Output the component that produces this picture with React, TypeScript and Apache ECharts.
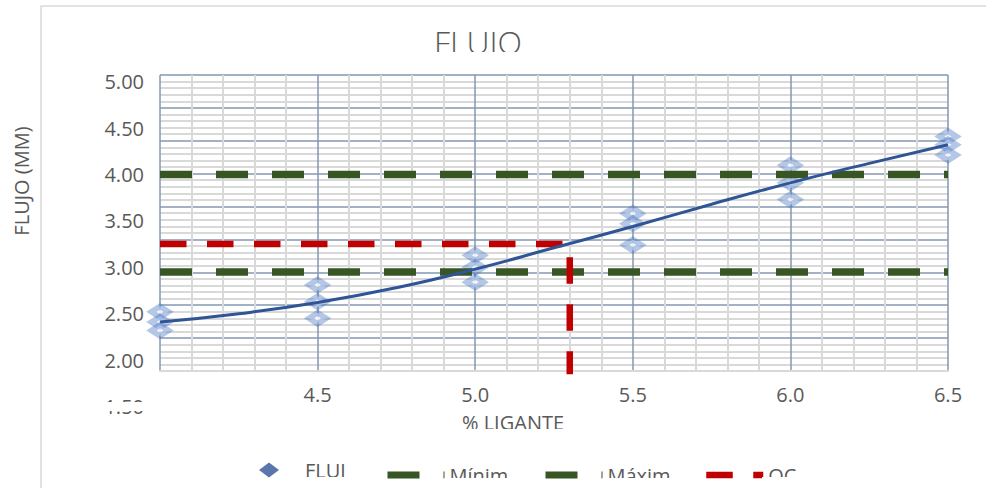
import React, { useEffect, useRef } from "react";
import * as echarts from "echarts";

// % ligante tested and three Marshall flow readings (mm) per content
const ligante = [4.0, 4.5, 5.0, 5.5, 6.0, 6.5];
const flujoRep1 = [2.52, 2.81, 3.13, 3.58, 4.1, 4.41];
const flujoRep2 = [2.41, 2.63, 3.0, 3.47, 3.91, 4.32];
const flujoRep3 = [2.32, 2.45, 2.84, 3.24, 3.73, 4.21];

// fitted trend line
const trendX = [4.0, 4.25, 4.5, 4.75, 5.0, 5.25, 5.5, 5.75, 6.0, 6.25, 6.5];
const trendY = [2.41, 2.5, 2.62, 2.78, 2.98, 3.21, 3.44, 3.68, 3.91, 4.12, 4.32];

// specification limits and optimum binder content
const minimo = 2.95;
const maximo = 4.0;
const ocLigante = 5.3;
const ocFlujo = 3.25;

// axis ranges
const xMin = 4.0;
const xMax = 6.5;
const xStep = 0.5;
const yLabelMin = 1.5;
const yLabelMax = 5.0;
const yLabelStep = 0.5;
const gridBands = 9;

// layout (px)
const PLOT_L = 160;
const PLOT_R = 948;
const PLOT_T = 75;
const PLOT_B = 371;
const LABEL_T = 81.7;
const LABEL_B = 406.5;

const FONT = "'Open Sans', 'Noto Sans', sans-serif";
const TEXT = "#595959";
const MAJOR = "#8497b0";
const MINOR = "#d9d9d9";
const GREEN = "#375623";
const RED = "#c00000";
const BLUE = "#2f5597";

const GREEN_DASH = [32, 24];
const RED_DASH = [26.5, 20.5];

export default function App() {
  const ref = useRef<HTMLDivElement>(null);

  useEffect(() => {
    if (!ref.current) return;
    const chart = echarts.init(ref.current, null, { renderer: "svg" });

    const pxPerUnit = (LABEL_B - LABEL_T) / (yLabelMax - yLabelMin);
    const dataYMax = yLabelMax + (LABEL_T - PLOT_T) / pxPerUnit;
    const dataYMin = yLabelMax - (PLOT_B - LABEL_T) / pxPerUnit;

    const puntos: number[][] = [];
    ligante.forEach((x, i) => {
      puntos.push([x, flujoRep1[i]], [x, flujoRep2[i]], [x, flujoRep3[i]]);
    });

    const legendText = {
      fontFamily: FONT,
      fontSize: 20,
      color: TEXT,
      lineHeight: 20,
      overflow: "truncate" as const,
      ellipsis: "",
    };
    const legendBase = {
      orient: "horizontal" as const,
      padding: 0,
      itemHeight: 14,
      itemWidth: 57,
      selectedMode: false,
    };
    const hiddenMarker = { color: "rgba(0,0,0,0)", borderWidth: 0 };

    chart.setOption({
      animation: false,
      title: {
        text: "FLUJO",
        left: 434,
        top: 25,
        padding: 0,
        textStyle: { fontFamily: FONT, fontSize: 32, fontWeight: 300, color: TEXT },
      },
      grid: [
        { left: PLOT_L, top: PLOT_T, width: PLOT_R - PLOT_L, height: PLOT_B - PLOT_T, containLabel: false },
        { left: PLOT_L, top: LABEL_T, width: PLOT_R - PLOT_L, height: LABEL_B - LABEL_T, containLabel: false },
      ],
      xAxis: [
        {
          gridIndex: 0,
          type: "value",
          min: xMin,
          max: xMax,
          interval: xStep,
          axisLine: { show: true, lineStyle: { color: MINOR, width: 2 } },
          axisTick: { show: false },
          minorTick: { show: false, splitNumber: 5 },
          splitLine: { show: true, lineStyle: { color: MAJOR, width: 1.5 } },
          minorSplitLine: { show: true, lineStyle: { color: MINOR, width: 2 } },
          axisLabel: {
            show: true,
            showMinLabel: false,
            margin: 14,
            fontFamily: FONT,
            fontSize: 20,
            color: TEXT,
            lineHeight: 18,
            formatter: (v: number) => v.toFixed(1),
          },
        },
        { gridIndex: 1, type: "value", min: xMin, max: xMax, show: false },
      ],
      yAxis: [
        { gridIndex: 0, type: "value", min: dataYMin, max: dataYMax, show: false },
        {
          gridIndex: 0,
          type: "value",
          min: 0,
          max: gridBands,
          interval: 1,
          position: "left",
          axisLine: { show: false },
          axisTick: { show: false },
          axisLabel: { show: false },
          minorTick: { show: false, splitNumber: 5 },
          splitLine: { show: true, showMinLine: false, lineStyle: { color: MAJOR, width: 1.5 } },
          minorSplitLine: { show: true, lineStyle: { color: MINOR, width: 2 } },
        },
        {
          gridIndex: 1,
          type: "value",
          min: yLabelMin,
          max: yLabelMax,
          interval: yLabelStep,
          position: "left",
          axisLine: { show: false },
          axisTick: { show: false },
          splitLine: { show: false },
          axisLabel: {
            show: true,
            margin: 16,
            fontFamily: FONT,
            fontSize: 20,
            color: TEXT,
            formatter: (v: number) => v.toFixed(2),
          },
        },
      ],
      legend: [
        {
          ...legendBase,
          left: 259,
          top: 460,
          itemWidth: 20,
          itemHeight: 15,
          symbolKeepAspect: false,
          textStyle: { ...legendText, width: 50, padding: [0, 0, 0, 21] },
          data: [{ name: "FLUJO", icon: "diamond", itemStyle: { color: BLUE, borderWidth: 0 } }],
        },
        {
          ...legendBase,
          left: 384,
          top: 465,
          textStyle: { ...legendText, width: 62 },
          itemStyle: hiddenMarker,
          lineStyle: { color: GREEN, width: 7, type: GREEN_DASH, cap: "butt" },
          data: [{ name: "Mínimo" }],
        },
        {
          ...legendBase,
          left: 542,
          top: 465,
          textStyle: { ...legendText, width: 66 },
          itemStyle: hiddenMarker,
          lineStyle: { color: GREEN, width: 7, type: GREEN_DASH, cap: "butt" },
          data: [{ name: "Máximo" }],
        },
        {
          ...legendBase,
          left: 703,
          top: 465,
          textStyle: { ...legendText, width: 40 },
          itemStyle: hiddenMarker,
          lineStyle: { color: RED, width: 6.5, type: RED_DASH, cap: "butt" },
          data: [{ name: "OC" }],
        },
      ],
      graphic: [
        {
          type: "rect",
          silent: true,
          z: 0,
          shape: { x: 41, y: 6, width: 1200, height: 800 },
          style: { fill: "none", stroke: "#d9d9d9", lineWidth: 1.5 },
        },
        {
          type: "text",
          silent: true,
          x: 21,
          y: 181,
          rotation: Math.PI / 2,
          style: {
            text: "FLUJO (MM)",
            fontFamily: FONT,
            fontSize: 20,
            fill: TEXT,
            textAlign: "center",
            textVerticalAlign: "middle",
          },
        },
        {
          type: "text",
          silent: true,
          x: 513,
          y: 422,
          style: {
            text: "% LIGANTE",
            fontFamily: FONT,
            fontSize: 20,
            lineHeight: 16,
            fill: TEXT,
            textAlign: "center",
            textVerticalAlign: "middle",
          },
        },
        // text boxes of the chart are cut at their lower edge
        { type: "rect", silent: true, z: 100, shape: { x: 420, y: 52, width: 150, height: 20 }, style: { fill: "#fff" } },
        { type: "rect", silent: true, z: 100, shape: { x: 60, y: 402, width: 926, height: 9 }, style: { fill: "#fff" } },
        { type: "rect", silent: true, z: 100, shape: { x: 430, y: 429, width: 170, height: 12 }, style: { fill: "#fff" } },
        { type: "rect", silent: true, z: 100, shape: { x: 300, y: 477, width: 60, height: 11 }, style: { fill: "#fff" } },
        { type: "rect", silent: true, z: 100, shape: { x: 444, y: 478, width: 76, height: 10 }, style: { fill: "#fff" } },
        { type: "rect", silent: true, z: 100, shape: { x: 602, y: 478, width: 80, height: 10 }, style: { fill: "#fff" } },
        { type: "rect", silent: true, z: 100, shape: { x: 762, y: 477, width: 50, height: 11 }, style: { fill: "#fff" } },
      ],
      series: [
        {
          name: "Mínimo",
          type: "line",
          xAxisIndex: 0,
          yAxisIndex: 0,
          data: [
            [xMin, minimo],
            [xMax, minimo],
          ],
          symbol: "none",
          silent: true,
          itemStyle: { color: GREEN },
          lineStyle: { color: GREEN, width: 7.5, type: GREEN_DASH, cap: "butt" },
        },
        {
          name: "Máximo",
          type: "line",
          xAxisIndex: 0,
          yAxisIndex: 0,
          data: [
            [xMin, maximo],
            [xMax, maximo],
          ],
          symbol: "none",
          silent: true,
          itemStyle: { color: GREEN },
          lineStyle: { color: GREEN, width: 7.5, type: GREEN_DASH, cap: "butt" },
        },
        {
          name: "OC",
          type: "line",
          xAxisIndex: 0,
          yAxisIndex: 0,
          data: [
            [xMin, ocFlujo],
            [ocLigante, ocFlujo],
            [ocLigante, yLabelMin],
          ],
          symbol: "none",
          silent: true,
          itemStyle: { color: RED },
          lineStyle: { color: RED, width: 6.5, type: RED_DASH, cap: "butt", join: "miter" },
        },
        {
          name: "Tendencia",
          type: "line",
          xAxisIndex: 0,
          yAxisIndex: 0,
          data: trendX.map((x, i) => [x, trendY[i]]),
          smooth: true,
          symbol: "none",
          silent: true,
          itemStyle: { color: BLUE },
          lineStyle: { color: BLUE, width: 3 },
        },
        {
          name: "FLUJO",
          type: "scatter",
          xAxisIndex: 0,
          yAxisIndex: 0,
          data: puntos,
          symbol: "diamond",
          symbolSize: [17, 11],
          silent: true,
          itemStyle: { color: "#ffffff", borderColor: "rgba(68,114,196,0.5)", borderWidth: 6 },
        },
      ],
    });

    return () => chart.dispose();
  }, []);

  return (
    <div
      ref={ref}
      style={{ position: "fixed", left: 0, top: 0, width: 986, height: 488, background: "#fff" }}
    />
  );
}
